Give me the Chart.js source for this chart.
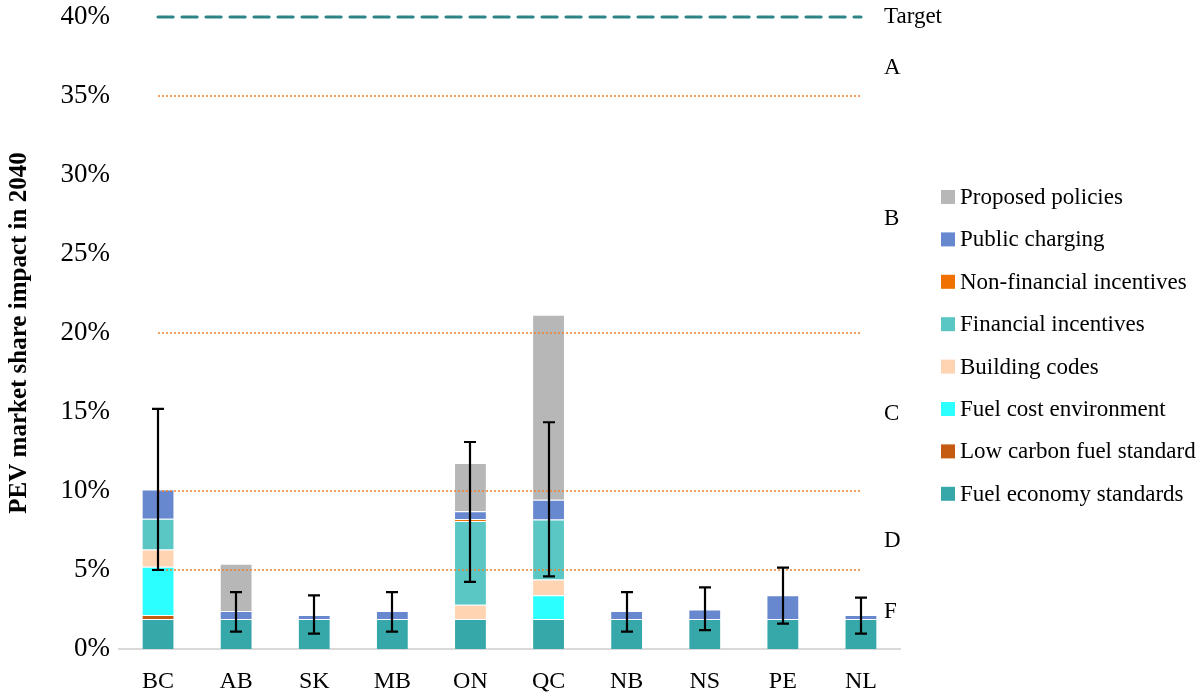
<!DOCTYPE html>
<html>
<head>
<meta charset="utf-8">
<script src="https://cdn.jsdelivr.net/npm/chart.js@4.4.1/dist/chart.umd.min.js"></script>
<style>
  html, body { margin: 0; padding: 0; background: #ffffff; }
  #wrap { width: 1200px; height: 693px; position: relative; }
</style>
</head>
<body>
<div id="wrap"><canvas id="chart" width="1200" height="693"></canvas></div>
<script>
// Provinces
const categories = ['BC', 'AB', 'SK', 'MB', 'ON', 'QC', 'NB', 'NS', 'PE', 'NL'];

// Policy contributions to PEV market share in 2040 (percentage points)
const fuelEconomyStandards = [1.9, 1.9, 1.9, 1.9, 1.9, 1.9, 1.9, 1.9, 1.9, 1.9];
const lowCarbonFuelStandard = [0.25, 0, 0, 0, 0, 0, 0, 0, 0, 0];
const fuelCostEnvironment = [3.05, 0, 0, 0, 0, 1.5, 0, 0, 0, 0];
const buildingCodes = [1.1, 0, 0, 0, 0.9, 1.0, 0, 0, 0, 0];
const financialIncentives = [1.95, 0, 0, 0, 5.3, 3.8, 0, 0, 0, 0];
const nonFinancialIncentives = [0, 0, 0, 0, 0.12, 0, 0, 0, 0, 0];
const publicCharging = [1.85, 0.5, 0.25, 0.5, 0.5, 1.25, 0.5, 0.6, 1.5, 0.25];
const proposedPolicies = [0, 3.0, 0, 0, 3.05, 11.7, 0, 0, 0, 0];

// Uncertainty range (low / high)
const rangeLow = [5.0, 1.1, 0.97, 1.1, 4.25, 4.6, 1.1, 1.2, 1.6, 0.97];
const rangeHigh = [15.2, 3.6, 3.4, 3.6, 13.1, 14.35, 3.6, 3.9, 5.15, 3.25];

// Target and grade thresholds
const targetLine = [40, 40, 40, 40, 40, 40, 40, 40, 40, 40];
const gradeA = [35, 35, 35, 35, 35, 35, 35, 35, 35, 35];
const gradeB = [20, 20, 20, 20, 20, 20, 20, 20, 20, 20];
const gradeC = [10, 10, 10, 10, 10, 10, 10, 10, 10, 10];
const gradeD = [5, 5, 5, 5, 5, 5, 5, 5, 5, 5];

// Grade labels along the right edge
const gradeLabels = ['Target', 'A', 'B', 'C', 'D', 'F'];

const yMax = 40;
const yStep = 5;

const FONT = "'Liberation Serif', 'Times New Roman', serif";

function barSet(label, data, color) {
  return {
    type: 'bar',
    label: label,
    data: data,
    backgroundColor: color,
    borderColor: 'rgba(255,255,255,0.25)',
    borderWidth: (c) => (c.raw > 0 ? 1 : 0),
    borderSkipped: 'start',
    stack: 'policy',
    order: 2,
    categoryPercentage: 1.0,
    barPercentage: 0.42
  };
}

function lineSet(label, data, color, width, dash, cap, stackId) {
  return {
    type: 'line',
    label: label,
    data: data,
    borderColor: color,
    backgroundColor: color,
    borderWidth: width,
    borderDash: dash,
    borderCapStyle: cap,
    pointRadius: 0,
    pointHoverRadius: 0,
    fill: false,
    tension: 0,
    clip: false,
    stack: stackId,
    order: 1
  };
}

const datasets = [
  barSet('Fuel economy standards', fuelEconomyStandards, '#37A8A9'),
  barSet('Low carbon fuel standard', lowCarbonFuelStandard, '#C55A11'),
  barSet('Fuel cost environment', fuelCostEnvironment, '#2CFFFF'),
  barSet('Building codes', buildingCodes, '#FFD4B3'),
  barSet('Financial incentives', financialIncentives, '#5AC7C5'),
  barSet('Non-financial incentives', nonFinancialIncentives, '#F07000'),
  barSet('Public charging', publicCharging, '#6787CF'),
  barSet('Proposed policies', proposedPolicies, '#B7B7B7'),
  lineSet('Target', targetLine, '#2C8486', 3.2, [15, 9], 'round', 't'),
  lineSet('A', gradeA, '#F0812A', 1.6, [2, 2], 'butt', 'a'),
  lineSet('B', gradeB, '#F0812A', 1.6, [2, 2], 'butt', 'b'),
  lineSet('C', gradeC, '#F0812A', 1.6, [2, 2], 'butt', 'c'),
  lineSet('D', gradeD, '#F0812A', 1.6, [2, 2], 'butt', 'd')
];

// Whiskers for the uncertainty range, placed through the chart's own scales
const rangeWhiskers = {
  id: 'rangeWhiskers',
  afterDatasetsDraw(chart) {
    const { ctx, scales: { x, y } } = chart;
    ctx.save();
    ctx.strokeStyle = '#000000';
    ctx.lineWidth = 2.2;
    ctx.lineCap = 'butt';
    categories.forEach((c, i) => {
      const cx = Math.round(x.getPixelForValue(i));
      const yl = y.getPixelForValue(rangeLow[i]);
      const yh = y.getPixelForValue(rangeHigh[i]);
      ctx.beginPath();
      ctx.moveTo(cx, yh);
      ctx.lineTo(cx, yl);
      ctx.moveTo(cx - 6, yh);
      ctx.lineTo(cx + 6, yh);
      ctx.moveTo(cx - 6, yl);
      ctx.lineTo(cx + 6, yl);
      ctx.stroke();
    });
    ctx.restore();
  }
};

// Grade letters to the right of the plot, vertically placed on the value axis
const gradeText = {
  id: 'gradeText',
  afterDraw(chart) {
    const { ctx, chartArea, scales: { y } } = chart;
    const at = [40, 36.8, 27.2, 14.9, 6.85, 2.35];
    ctx.save();
    ctx.font = '23px ' + FONT;
    ctx.fillStyle = '#000000';
    ctx.textAlign = 'left';
    ctx.textBaseline = 'middle';
    gradeLabels.forEach((t, i) => {
      ctx.fillText(t, chartArea.right - 16, y.getPixelForValue(at[i]));
    });
    ctx.restore();
  }
};

// Policy legend, top-most segment first
const policyLegend = {
  id: 'policyLegend',
  afterDraw(chart) {
    const { ctx } = chart;
    const items = chart.data.datasets.filter(d => d.type === 'bar').slice().reverse();
    const x0 = 941, y0 = 197, step = 42.4, box = 14;
    ctx.save();
    ctx.font = '23px ' + FONT;
    ctx.textAlign = 'left';
    ctx.textBaseline = 'middle';
    items.forEach((d, i) => {
      const cy = y0 + i * step;
      ctx.fillStyle = d.backgroundColor;
      ctx.fillRect(x0, cy - box / 2, box, box);
      ctx.fillStyle = '#000000';
      ctx.fillText(d.label, x0 + box + 5, cy + 1);
    });
    ctx.restore();
  }
};

new Chart(document.getElementById('chart'), {
  data: { labels: categories, datasets: datasets },
  options: {
    responsive: false,
    animation: false,
    devicePixelRatio: 1,
    layout: { padding: { top: 17, right: 300, bottom: 0, left: 0 } },
    plugins: {
      legend: { display: false },
      tooltip: { enabled: false },
      title: { display: false }
    },
    scales: {
      x: {
        stacked: true,
        grid: { display: false, drawTicks: false },
        border: { display: true, color: '#D9D9D9', width: 2 },
        ticks: {
          color: '#000000',
          padding: 18,
          font: { family: FONT, size: 24 },
          maxRotation: 0,
          autoSkip: false
        },
        afterFit(scale) {
          scale.height = 44;
          scale.paddingLeft = 0;
          scale.paddingRight = 0;
        }
      },
      y: {
        stacked: true,
        min: 0,
        max: yMax,
        grid: { display: false, drawTicks: false },
        border: { display: false },
        ticks: {
          stepSize: yStep,
          color: '#000000',
          padding: 9,
          font: { family: FONT, size: 27 },
          callback: (v) => v + '%'
        },
        title: {
          display: true,
          text: 'PEV market share impact in 2040',
          color: '#000000',
          font: { family: FONT, size: 25, weight: 'bold' },
          padding: { top: 5, bottom: 4 }
        },
        afterFit(scale) {
          scale.width = 119;
          scale.paddingTop = 0;
          scale.paddingBottom = 0;
        }
      }
    }
  },
  plugins: [rangeWhiskers, gradeText, policyLegend]
});
</script>
</body>
</html>
